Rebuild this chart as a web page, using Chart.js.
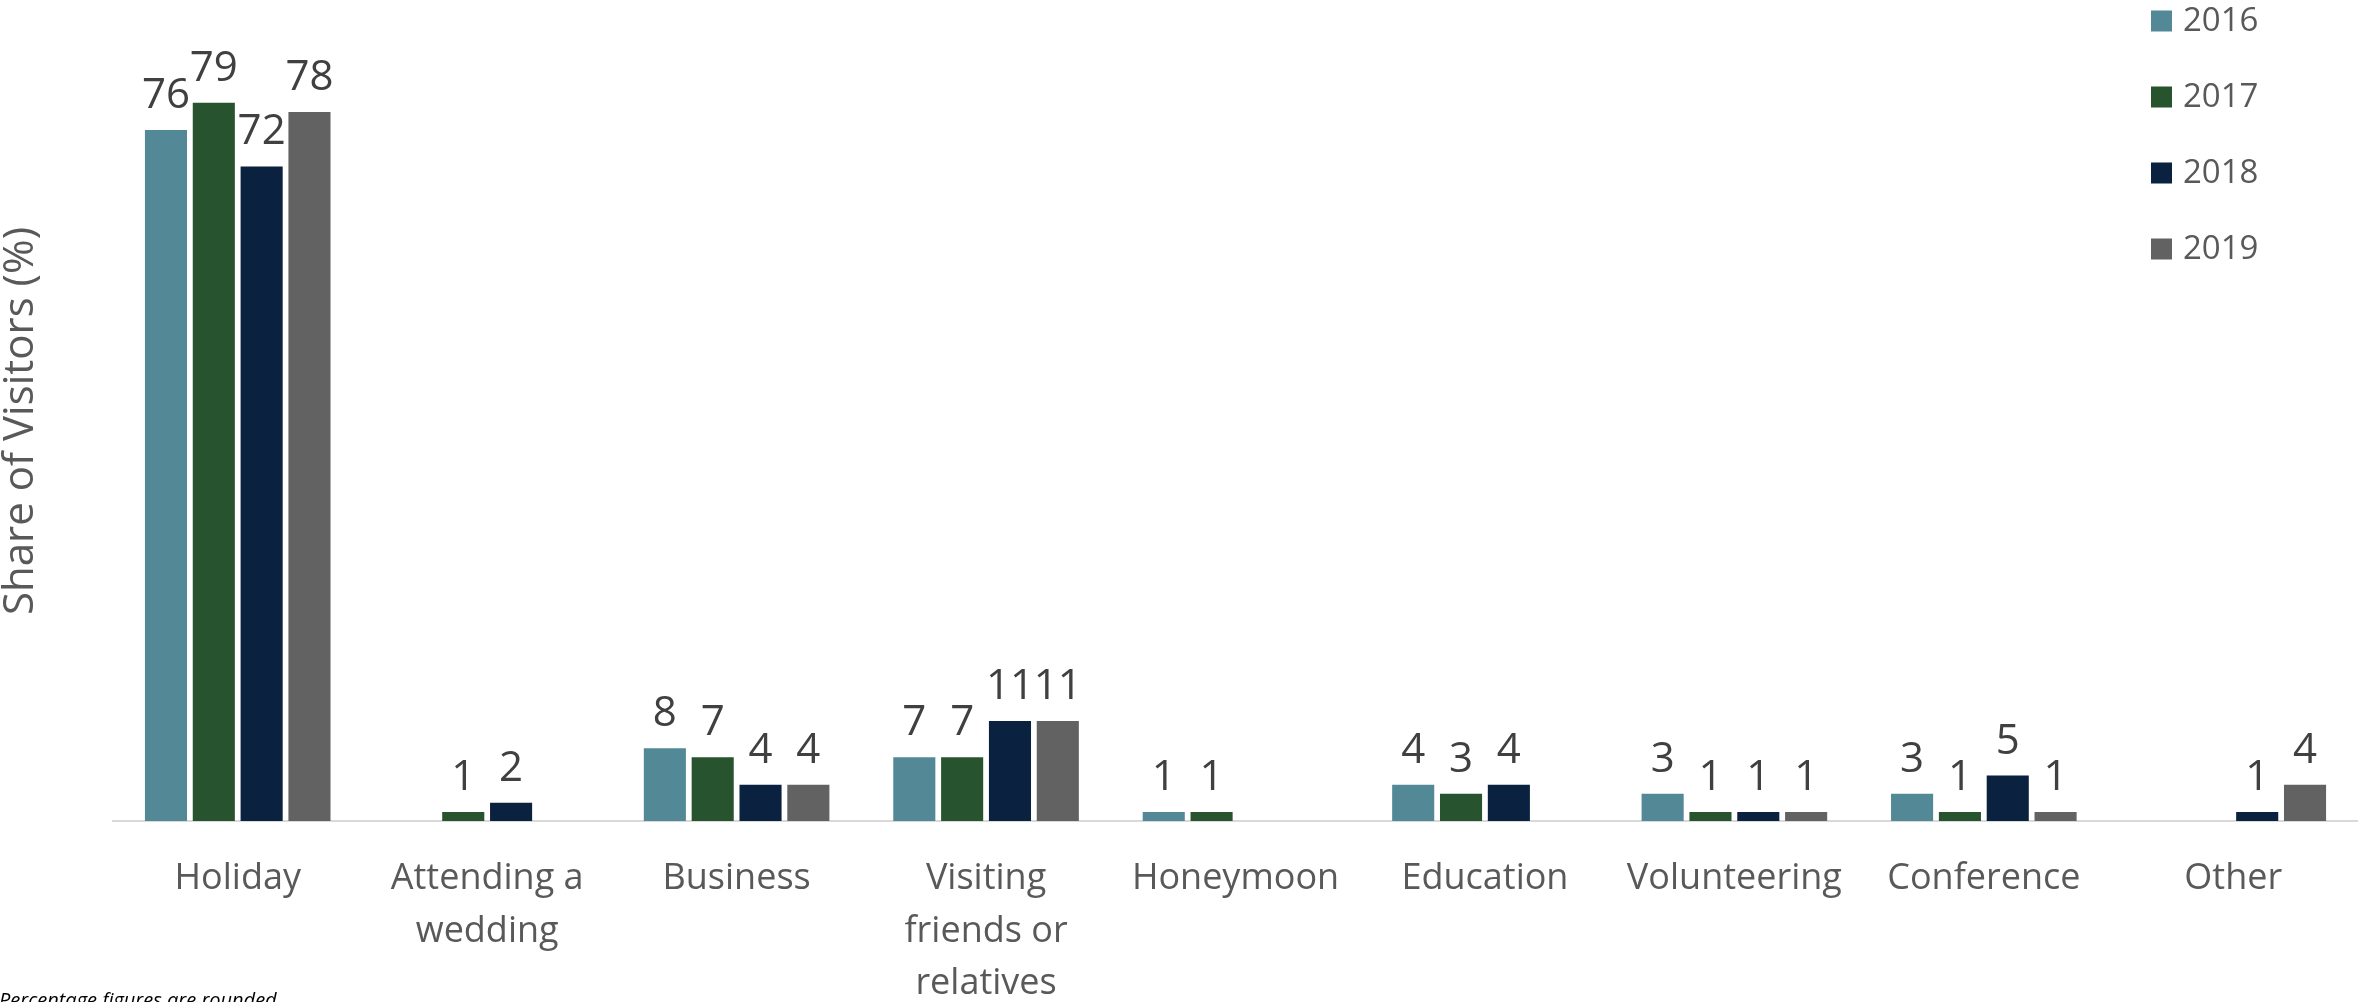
<!DOCTYPE html>
<html>
<head>
<meta charset="utf-8">
<script src="https://cdn.jsdelivr.net/npm/chart.js@4.4.1/dist/chart.umd.min.js"></script>
<style>
  html, body { margin: 0; padding: 0; background: #fff; }
  canvas { display: block; }
</style>
</head>
<body>
<canvas id="grafico" width="2358" height="1002"></canvas>
<script>
// Motivos de visita y cuota por año (%)
const categorias = [
  'Holiday',
  ['Attending a', 'wedding'],
  'Business',
  ['Visiting', 'friends or', 'relatives'],
  'Honeymoon',
  'Education',
  'Volunteering',
  'Conference',
  'Other'
];
const anios = ['2016', '2017', '2018', '2019'];
const datos2016 = [76, null, 8, 7, 1, 4, 3, 3, null];
const datos2017 = [79, 1, 7, 7, 1, 3, 1, 1, null];
const datos2018 = [72, 2, 4, 11, null, 4, 1, 5, 1];
const datos2019 = [78, null, 4, 11, null, null, 1, 1, 4];
const colores = ['#538996', '#27532F', '#0A213F', '#626262'];
const nota = 'Percentage figures are rounded';

const FUENTE = '"Open Sans", "Noto Sans", sans-serif';

// Números encima de cada barra
const etiquetasValor = {
  id: 'etiquetasValor',
  afterDatasetsDraw(chart) {
    const ctx = chart.ctx;
    ctx.save();
    ctx.font = '42px ' + FUENTE;
    ctx.fillStyle = '#404040';
    ctx.textAlign = 'center';
    ctx.textBaseline = 'alphabetic';
    chart.data.datasets.forEach((ds, i) => {
      chart.getDatasetMeta(i).data.forEach((barra, j) => {
        const v = ds.data[j];
        if (v === null || v === undefined) return;
        ctx.fillText(String(v), barra.x, barra.y - 22);
      });
    });
    ctx.restore();
  }
};

// Leyenda vertical arriba a la derecha, dentro del área del gráfico
const leyendaVertical = {
  id: 'leyendaVertical',
  afterDraw(chart) {
    const ctx = chart.ctx;
    ctx.save();
    ctx.font = '33px ' + FUENTE;
    ctx.textBaseline = 'middle';
    ctx.textAlign = 'left';
    chart.data.datasets.forEach((ds, i) => {
      const y = 21 + i * 76;
      ctx.fillStyle = ds.backgroundColor;
      ctx.fillRect(2151, y - 10.5, 21, 21);
      ctx.fillStyle = '#595959';
      ctx.fillText(ds.label, 2183, y + 1);
    });
    ctx.restore();
  }
};

// Nota al pie, abajo a la izquierda
const notaPie = {
  id: 'notaPie',
  afterDraw(chart) {
    const ctx = chart.ctx;
    ctx.save();
    ctx.font = 'italic 20px ' + FUENTE;
    ctx.fillStyle = '#000000';
    ctx.textAlign = 'left';
    ctx.textBaseline = 'alphabetic';
    ctx.fillText(nota, -1, 1007);
    ctx.restore();
  }
};

function dibujar() {
  const series = [datos2016, datos2017, datos2018, datos2019];
  const ctx = document.getElementById('grafico').getContext('2d');

  new Chart(ctx, {
    type: 'bar',
    data: {
      labels: categorias,
      datasets: series.map((serie, i) => ({
        label: anios[i],
        data: serie,
        backgroundColor: colores[i],
        borderWidth: 0,
        barPercentage: 0.88,
        categoryPercentage: 0.767
      }))
    },
    options: {
      responsive: false,
      animation: false,
      devicePixelRatio: 1,
      layout: { padding: { top: 21, right: 0, bottom: 0, left: 0 } },
      plugins: {
        legend: { display: false },
        title: { display: false },
        tooltip: { enabled: false }
      },
      scales: {
        x: {
          grid: { display: false, drawTicks: false },
          border: { display: true, color: '#D9D9D9', width: 2 },
          ticks: {
            color: '#595959',
            font: { family: FUENTE, size: 36, lineHeight: 1.458 },
            padding: 32,
            maxRotation: 0,
            autoSkip: false
          },
          afterFit: s => { s.height = 181; }
        },
        y: {
          min: 0,
          max: 88,
          grid: { display: false, drawTicks: false },
          border: { display: false },
          ticks: { display: false },
          title: {
            display: true,
            text: 'Share of Visitors (%)',
            color: '#595959',
            font: { family: FUENTE, size: 42, lineHeight: 1.0 },
            padding: { top: 0, bottom: 0 }
          },
          afterFit: s => { s.width = 113; }
        }
      }
    },
    plugins: [etiquetasValor, leyendaVertical, notaPie]
  });
}

document.fonts.load('36px "Open Sans"').then(dibujar, dibujar);
</script>
</body>
</html>
